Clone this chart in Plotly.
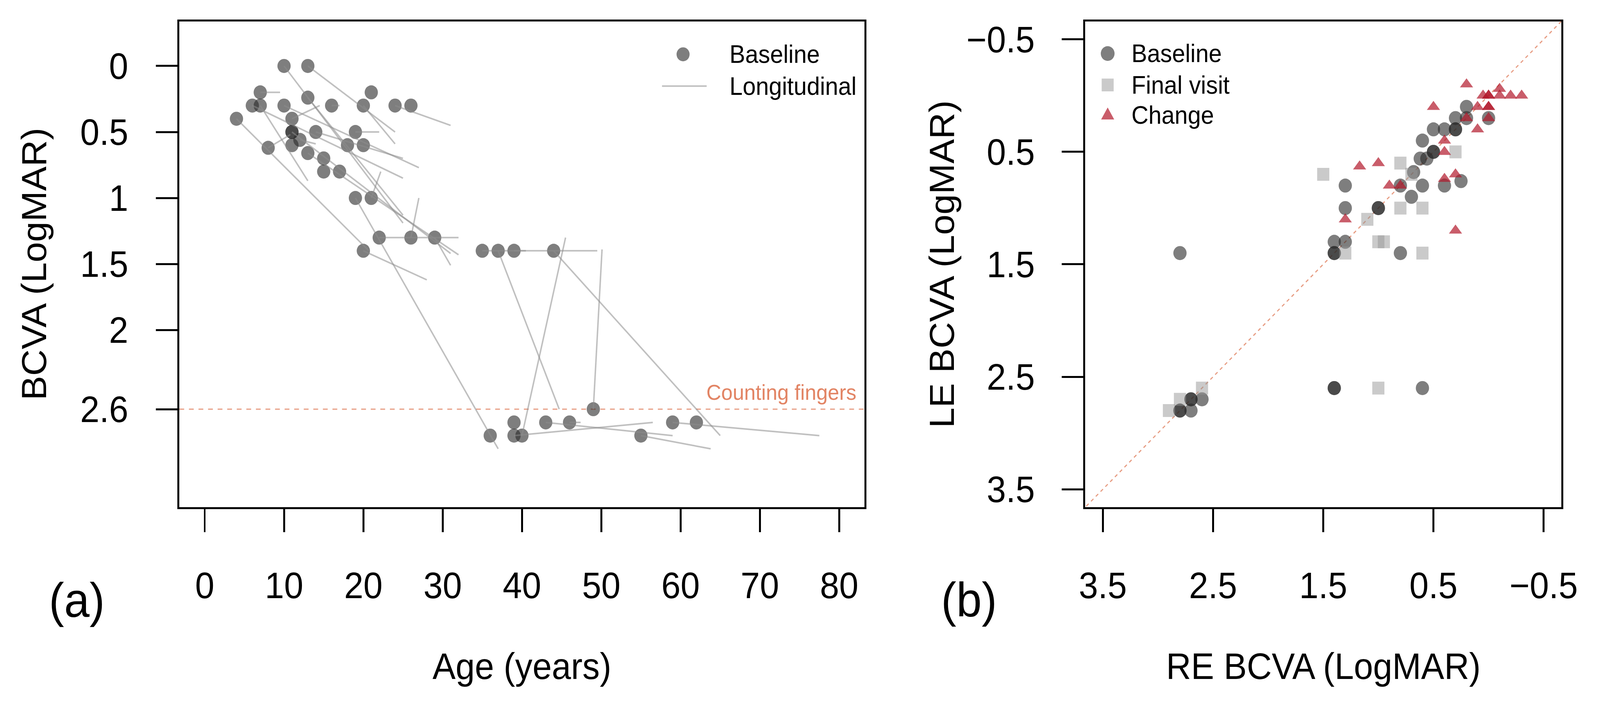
import plotly.graph_objects as go

# ---------------- Panel (a): BCVA vs age ----------------
age_base = [10, 13, 7, 21, 6, 7, 10, 13, 16, 20,
            24, 26, 4, 11, 11, 11, 14, 19, 12, 8,
            11, 18, 20, 13, 15, 15, 17, 19, 21, 22,
            26, 29, 20, 35, 37, 39, 44, 49, 39, 43,
            46, 59, 62, 36, 39, 40, 55]
va_base = [0, 0, 0.2, 0.2, 0.3, 0.3, 0.3, 0.24, 0.3, 0.3,
           0.3, 0.3, 0.4, 0.4, 0.5, 0.5, 0.5, 0.5, 0.56, 0.62,
           0.6, 0.6, 0.6, 0.66, 0.7, 0.8, 0.8, 1.0, 1.0, 1.3,
           1.3, 1.3, 1.4, 1.4, 1.4, 1.4, 1.4, 2.6, 2.7, 2.7,
           2.7, 2.7, 2.7, 2.8, 2.8, 2.8, 2.8]
age_final = [25, 24, 9.5, None, 25, 13, 27, 25, 17, 24,
             31, None, 20.7, 14.5, 31, None, 25, 22, 14, 10.8,
             None, None, None, 32, None, None, None, 37, 22.2, 32,
             27, 31, 28, 40.5, 44.7, 49.5, 65, 50.1, None, 59,
             47.4, 77.5, None, None, 56.5, 45.5, 63.8]
va_final = [1.19, 0.5, 0.2, None, 0.85, 0.87, 0.77, 1.13, 0.3, 0.59,
            0.45, None, 1.4, 0.3, 1.42, None, 0.7, 0.5, 0.59, 0.52,
            None, None, None, 1.43, None, None, None, 2.9, 0.8, 1.3,
            1.0, 1.51, 1.62, 1.4, 2.6, 1.4, 2.8, 1.39, None, 2.8,
            2.7, 2.8, None, None, 2.7, 1.3, 2.9]

a_xticks = [0, 10, 20, 30, 40, 50, 60, 70, 80]
a_xlabels = ["0", "10", "20", "30", "40", "50", "60", "70", "80"]
a_yticks = [0, 0.5, 1, 1.5, 2, 2.6]
a_ylabels = ["0", "0.5", "1", "1.5", "2", "2.6"]
counting_fingers = 2.6

# ---------------- Panel (b): LE vs RE ----------------
re_base = [2.8, 1.4, 1.4, 1.4, 1.3, 1.3, 1.3, 1.0, 1.0, 0.8,
           0.8, 0.7, 0.6, 0.68, 0.62, 0.56, 0.6, 0.5, 0.5, 0.5,
           0.4, 0.3, 0.3, 0.3, 0.2, 0.2, 0.0, 0.4, 0.25, 2.8,
           2.8, 2.7, 2.7, 2.7, 2.6, 1.4, 1.4, 0.6]
le_base = [1.4, 1.3, 1.4, 1.4, 1.3, 1.0, 0.8, 1.0, 1.0, 1.4,
           0.8, 0.9, 0.8, 0.68, 0.56, 0.56, 0.4, 0.5, 0.5, 0.3,
           0.3, 0.3, 0.3, 0.2, 0.1, 0.2, 0.2, 0.8, 0.76, 2.8,
           2.8, 2.7, 2.7, 2.8, 2.7, 2.6, 2.6, 2.6]
re_final = [1.5, 0.8, 0.7, 0.3, 0.8, 0.6, 1.1, 1.0, 0.95, 1.3, 0.6, 2.6, 2.8, 2.9, 1.0]
le_final = [0.7, 0.6, 0.7, 0.5, 1.0, 1.0, 1.1, 1.3, 1.3, 1.4, 1.4, 2.6, 2.7, 2.8, 2.6]
re_change = [0.2, -0.1, 0.05, 0.0, 0.0, -0.1, -0.2, -0.3, 0.0, 0.0,
             0.1, 0.5, 0.2, 0.0, 0.1, 0.4, 0.4, 1.17, 1.0, 0.9,
             0.8, 0.4, 0.3, 1.3, 0.3]
le_change = [-0.1, -0.06, 0.0, 0.0, 0.0, 0.0, 0.0, 0.0, 0.1, 0.1,
             0.1, 0.1, 0.2, 0.2, 0.3, 0.4, 0.5, 0.63, 0.6, 0.8,
             0.8, 0.74, 0.7, 1.1, 1.2]
b_ticks = [-0.5, 0.5, 1.5, 2.5, 3.5]
b_labels = ["\u22120.5", "0.5", "1.5", "2.5", "3.5"]
b_lim = [-0.66, 3.66]

# ---------------- styling ----------------
W, H = 4347, 1798
FONT = "Liberation Sans, Arial, Helvetica, sans-serif"
C_BASE = "rgba(40,40,40,0.6)"
C_FINAL = "rgba(150,150,150,0.5)"
C_CHANGE = "rgba(178,24,43,0.7)"
C_LINE = "rgba(140,140,140,0.55)"
C_REF = "rgb(226,132,100)"


def px(x):
    return x / W


def py(y):
    return 1 - y / H


fig = go.Figure()

# panel (a): baseline markers, then longitudinal segments drawn over them
fig.add_trace(go.Scatter(x=age_base, y=va_base, mode="markers", xaxis="x", yaxis="y",
                         marker=dict(size=36, color=C_BASE, line=dict(width=0)),
                         showlegend=False, hoverinfo="skip"))
for a0, v0, a1, v1 in zip(age_base, va_base, age_final, va_final):
    if a1 is None:
        continue
    fig.add_trace(go.Scatter(x=[a0, a1], y=[v0, v1], mode="lines", xaxis="x", yaxis="y",
                             line=dict(color=C_LINE, width=4),
                             showlegend=False, hoverinfo="skip"))

# panel (b)
fig.add_trace(go.Scatter(x=re_base, y=le_base, mode="markers", xaxis="x2", yaxis="y2",
                         marker=dict(size=36, color=C_BASE, symbol="circle", line=dict(width=0)),
                         showlegend=False, hoverinfo="skip"))
fig.add_trace(go.Scatter(x=re_final, y=le_final, mode="markers", xaxis="x2", yaxis="y2",
                         marker=dict(size=33, color=C_FINAL, symbol="square", line=dict(width=0)),
                         showlegend=False, hoverinfo="skip"))
fig.add_trace(go.Scatter(x=re_change, y=le_change, mode="markers", xaxis="x2", yaxis="y2",
                         marker=dict(size=31, color=C_CHANGE, symbol="triangle-up", line=dict(width=0)),
                         showlegend=False, hoverinfo="skip"))

axis_common = dict(showgrid=False, zeroline=False, showline=True, mirror=True,
                   linecolor="black", linewidth=5, ticks="outside", ticklen=59,
                   tickwidth=5, tickcolor="black",
                   tickfont=dict(family=FONT, size=94, color="black"))

dom_y = [py(1302), py(49)]
fig.update_layout(
    width=W, height=H, margin=dict(l=0, r=0, t=0, b=0),
    paper_bgcolor="white", plot_bgcolor="white", showlegend=False,
    xaxis=dict(domain=[px(477), px(2365)], range=[-3.2, 83.2], anchor="y",
               tickmode="array", tickvals=a_xticks, ticktext=a_xlabels,
               ticklabelstandoff=56, **axis_common),
    yaxis=dict(domain=dom_y, range=[3.343, -0.338], anchor="x",
               tickmode="array", tickvals=a_yticks, ticktext=a_ylabels,
               ticklabelstandoff=56, **axis_common),
    xaxis2=dict(domain=[px(2973), px(4285)], range=[b_lim[1], b_lim[0]], anchor="y2",
                tickmode="array", tickvals=b_ticks, ticktext=b_labels,
                ticklabelstandoff=56, **axis_common),
    yaxis2=dict(domain=dom_y, range=[b_lim[1], b_lim[0]], anchor="x2",
                tickmode="array", tickvals=b_ticks, ticktext=b_labels,
                ticklabelstandoff=54, **axis_common),
)

shapes = [
    dict(type="line", xref="x domain", yref="y", x0=0, x1=1,
         y0=counting_fingers, y1=counting_fingers,
         line=dict(color=C_REF, width=3, dash="13px,13px"), opacity=0.8, layer="below"),
    dict(type="line", xref="x2", yref="y2", x0=b_lim[0], x1=b_lim[1], y0=b_lim[0], y1=b_lim[1],
         line=dict(color=C_REF, width=3, dash="9px,9px"), opacity=0.8, layer="below"),
]


def circle(cx, cy, d, color):
    r = d / 2
    return dict(type="circle", xref="paper", yref="paper",
                x0=px(cx - r), x1=px(cx + r), y0=py(cy + r), y1=py(cy - r),
                fillcolor=color, line=dict(width=0))


# legend glyphs (panel a)
shapes.append(circle(1865, 134, 36, C_BASE))
shapes.append(dict(type="line", xref="paper", yref="paper", x0=px(1807), x1=px(1930),
                   y0=py(216), y1=py(216), line=dict(color=C_LINE, width=4)))
# legend glyphs (panel b)
shapes.append(circle(3035, 132, 38, C_BASE))
shapes.append(dict(type="rect", xref="paper", yref="paper", x0=px(3035 - 16.5), x1=px(3035 + 16.5),
                   y0=py(213 + 16.5), y1=py(213 - 16.5), fillcolor=C_FINAL, line=dict(width=0)))
tx, ty = 3035, 291
tri = "M {:.6f},{:.6f} L {:.6f},{:.6f} L {:.6f},{:.6f} Z".format(
    px(tx - 18), py(ty + 11), px(tx + 18), py(ty + 11), px(tx), py(ty - 20))
shapes.append(dict(type="path", xref="paper", yref="paper", path=tri,
                   fillcolor=C_CHANGE, line=dict(width=0)))
fig.update_layout(shapes=shapes)


def ann(text, x, y, size, xanchor="center", yanchor="middle", angle=0, color="black"):
    return dict(text=text, x=px(x), y=py(y), xref="paper", yref="paper", showarrow=False,
                xanchor=xanchor, yanchor=yanchor, textangle=angle,
                font=dict(family=FONT, size=size, color=color))


annotations = [
    ann("Counting fingers", 2345, 1005, 56, xanchor="right", color=C_REF),
    ann("Age (years)", 1421, 1712, 94),
    ann("RE BCVA (LogMAR)", 3629, 1712, 94),
    ann("BCVA (LogMAR)", 77, 675, 94, angle=-90),
    ann("LE BCVA (LogMAR)", 2578, 675, 94, angle=-90),
    ann("(a)", 195, 1541, 124),
    ann("(b)", 2653, 1540, 124),
    ann("Baseline", 1991, 134, 64, xanchor="left"),
    ann("Longitudinal", 1991, 216, 64, xanchor="left"),
    ann("Baseline", 3098, 132, 64, xanchor="left"),
    ann("Final visit", 3098, 213, 64, xanchor="left"),
    ann("Change", 3098, 291, 64, xanchor="left"),
]
fig.update_layout(annotations=annotations)

# fit the fixed-size figure exactly into whatever viewport the page is opened in
post = """
var gd = document.getElementById('{plot_id}');
document.documentElement.style.margin='0';
document.documentElement.style.overflow='hidden';
document.body.style.margin='0';
document.body.style.overflow='hidden';
var sx = window.innerWidth / %d, sy = window.innerHeight / %d;
gd.style.transformOrigin = '0 0';
gd.style.transform = 'scale(' + sx + ',' + sy + ')';
""" % (W, H)

fig.write_html("out.html", config={"displayModeBar": False}, post_script=post)
